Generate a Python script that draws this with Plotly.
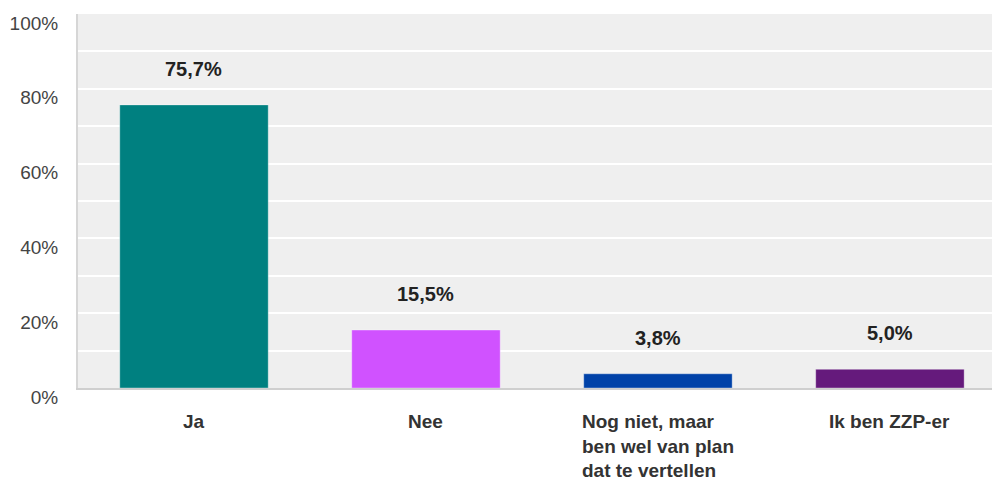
import plotly.graph_objects as go

categories = ["Ja", "Nee", "Nog niet, maar<br>ben wel van plan<br>dat te vertellen", "Ik ben ZZP-er"]
values = [75.7, 15.5, 3.8, 5.0]
value_labels = ["75,7%", "15,5%", "3,8%", "5,0%"]
bar_colors = ["#008080", "#d052ff", "#0042a8", "#651a7c"]
y_tickvals = [0, 20, 40, 60, 80, 100]
y_ticktext = ["0%", "20%", "40%", "60%", "80%", "100%"]

FONT = "Liberation Sans, Arial, sans-serif"
x_pos = list(range(len(categories)))

fig = go.Figure()
fig.add_trace(go.Bar(
    x=x_pos,
    y=values,
    width=0.64,
    marker=dict(color=bar_colors, line=dict(color="rgba(255,255,255,0.35)", width=1)),
    hoverinfo="skip",
))

# value labels above each bar
for xi, v, lab in zip(x_pos, values, value_labels):
    fig.add_annotation(
        x=xi, y=v, text=f"<b>{lab}</b>", showarrow=False,
        yanchor="middle", yshift=36,
        font=dict(family=FONT, size=20, color="#222222"),
    )

# category labels below the axis, lines left-aligned
for xi, cat in zip(x_pos, categories):
    fig.add_annotation(
        x=xi, y=0, yref="y", text=f"<b>{cat}</b>", showarrow=False,
        xanchor="center", yanchor="top", yshift=-21, align="left",
        font=dict(family=FONT, size=19, color="#333333"),
    )

fig.update_layout(
    width=992, height=479,
    margin=dict(l=78, r=0, t=14, b=91),
    paper_bgcolor="#ffffff",
    plot_bgcolor="#efefef",
    showlegend=False,
    bargap=0.36,
    xaxis=dict(
        range=[-0.5, 3.44],
        showticklabels=False,
        showgrid=False,
        zeroline=False,
        showline=True,
        linecolor="#cfcfcf",
        linewidth=2,
        fixedrange=True,
    ),
    yaxis=dict(
        range=[0, 100],
        tickvals=y_tickvals,
        ticktext=y_ticktext,
        tickfont=dict(family=FONT, size=19, color="#444444"),
        ticklabelshift=9,
        ticklabelstandoff=14,
        showgrid=True,
        gridcolor="#ffffff",
        gridwidth=2,
        minor=dict(dtick=10, showgrid=True, gridcolor="#ffffff", gridwidth=2),
        zeroline=False,
        showline=True,
        linecolor="#d6d6d6",
        linewidth=2,
        fixedrange=True,
    ),
)

fig.write_html("out.html")
